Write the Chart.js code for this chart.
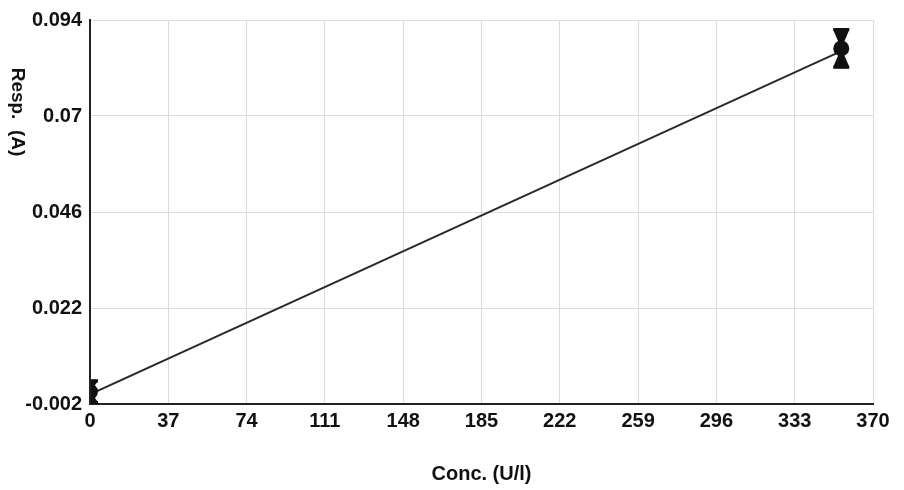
<!DOCTYPE html>
<html>
<head>
<meta charset="utf-8">
<script src="https://cdn.jsdelivr.net/npm/chart.js@4.4.0/dist/chart.umd.min.js"></script>
<style>
  html, body { margin: 0; padding: 0; background: #fff; }
  #wrap { width: 904px; height: 490px; }
</style>
</head>
<body>
<div id="wrap"><canvas id="myChart" width="904" height="490"></canvas></div>
<script>
// measured points (conc, response) and their error half-widths
let concX = [0, 355];
let respY = [0.0011, 0.0869];
let respErr = [0.0026, 0.0046];
// fitted calibration line
let fitX = [0, 355];
let fitY = [0.0004, 0.0862];
// axis ticks
let xTicks = [0, 37, 74, 111, 148, 185, 222, 259, 296, 333, 370];
let yTicks = [-0.002, 0.022, 0.046, 0.07, 0.094];
let yTickLabels = ["-0.002", "0.022", "0.046", "0.07", "0.094"];

let tickFont = { family: "'Liberation Sans', Arial, sans-serif", size: 20, weight: "bold" };

// hourglass style error bars drawn over the points
let errorBars = {
  id: "errorBars",
  afterDatasetsDraw(chart) {
    let ctx = chart.ctx;
    let xs = chart.scales.x, ys = chart.scales.y;
    let area = chart.chartArea;
    ctx.save();
    ctx.beginPath();
    ctx.rect(area.left + 1, area.top - 20, area.right - area.left, area.bottom - area.top + 20);
    ctx.clip();
    ctx.fillStyle = "#111";
    ctx.strokeStyle = "#111";
    for (let i = 0; i < concX.length; i++) {
      let px = xs.getPixelForValue(concX[i]);
      let pc = ys.getPixelForValue(respY[i]);
      let pt = ys.getPixelForValue(respY[i] + respErr[i]);
      let pb = ys.getPixelForValue(respY[i] - respErr[i]);
      let hw = 8;
      ctx.lineWidth = 2;
      ctx.beginPath();
      ctx.moveTo(px, pt); ctx.lineTo(px, pb); ctx.stroke();
      // top cap + triangle
      ctx.fillRect(px - hw, pt - 2, hw * 2, 3);
      ctx.beginPath();
      ctx.moveTo(px - hw, pt); ctx.lineTo(px + hw, pt); ctx.lineTo(px, pc); ctx.closePath(); ctx.fill();
      // bottom cap + triangle
      ctx.fillRect(px - hw, pb - 1, hw * 2, 3);
      ctx.beginPath();
      ctx.moveTo(px - hw, pb); ctx.lineTo(px + hw, pb); ctx.lineTo(px, pc); ctx.closePath(); ctx.fill();
      // centre marker
      ctx.beginPath();
      ctx.arc(px, pc, 8, 0, Math.PI * 2); ctx.fill();
    }
    ctx.restore();
  }
};

// y title reads top to bottom, so draw it by hand
let yTitle = {
  id: "yTitle",
  afterDraw(chart) {
    let ctx = chart.ctx;
    ctx.save();
    ctx.translate(17, 112);
    ctx.rotate(Math.PI / 2);
    ctx.font = "bold 19px 'Liberation Sans', Arial, sans-serif";
    ctx.fillStyle = "#111";
    ctx.textAlign = "center";
    ctx.textBaseline = "middle";
    ctx.fillText("Resp.  (A)", 0, 0);
    ctx.restore();
  }
};

let ctx = document.getElementById("myChart").getContext("2d");
let chart = new Chart(ctx, {
  type: "scatter",
  data: {
    datasets: [
      {
        label: "fit",
        data: fitX.map((x, i) => ({ x: x, y: fitY[i] })),
        showLine: true,
        borderColor: "#2a2a2a",
        borderWidth: 2,
        pointRadius: 0
      },
      {
        label: "points",
        data: concX.map((x, i) => ({ x: x, y: respY[i] })),
        pointRadius: 0,
        showLine: false
      }
    ]
  },
  options: {
    responsive: false,
    animation: false,
    layout: { padding: { left: 0, right: 31, top: 16, bottom: 0 } },
    plugins: { legend: { display: false }, tooltip: { enabled: false } },
    scales: {
      x: {
        type: "linear",
        min: 0, max: 370,
        afterBuildTicks: s => { s.ticks = xTicks.map(v => ({ value: v })); },
        afterFit: s => { s.height = 86; },
        ticks: { font: tickFont, color: "#111", padding: 5, maxRotation: 0 },
        grid: { color: "#dcdcdc", lineWidth: 1, tickLength: 0, drawTicks: false },
        border: { color: "#222", width: 2, dash: [] },
        title: {
          display: true, text: "Conc. (U/l)", color: "#111",
          font: { family: "'Liberation Sans', Arial, sans-serif", size: 20, weight: "bold" },
          padding: { top: 14 }
        }
      },
      y: {
        type: "linear",
        min: -0.002, max: 0.094,
        afterBuildTicks: s => { s.ticks = yTicks.map(v => ({ value: v })); },
        afterFit: s => { s.width = 90; },
        ticks: {
          font: tickFont, color: "#111", padding: 8,
          callback: (v, i) => yTickLabels[i]
        },
        grid: { color: "#dcdcdc", lineWidth: 1, drawTicks: false },
        border: { color: "#222", width: 2 }
      }
    }
  },
  plugins: [errorBars, yTitle]
});
</script>
</body>
</html>
